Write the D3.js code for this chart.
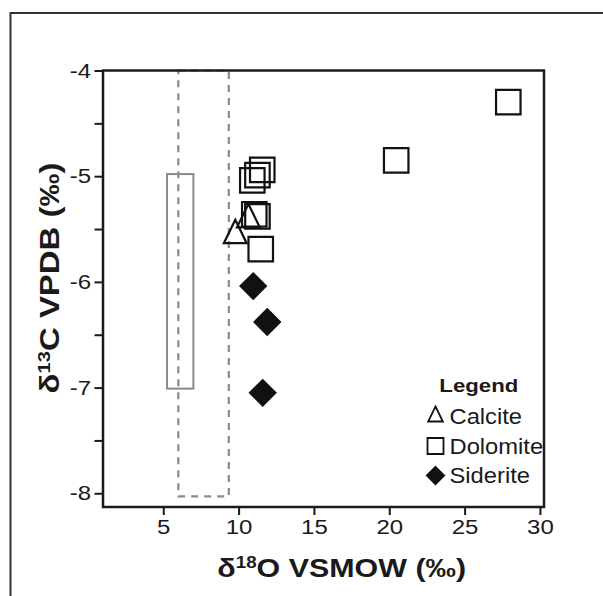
<!DOCTYPE html>
<html>
<head>
<meta charset="utf-8">
<script src="https://cdn.jsdelivr.net/npm/d3@7"></script>
<style>
  body { margin: 0; background: #fff; }
  svg text { font-family: "Liberation Sans", Arial, sans-serif; fill: #1a1a1a; }
</style>
</head>
<body>
<svg id="chart" width="603" height="596"></svg>
<script>
// datos (δ18O VSMOW, δ13C VPDB)
const calciteX  = [9.78, 10.65];
const calciteY  = [-5.56, -5.41];
const dolomiteX = [11.57, 11.25, 10.91, 11.04, 11.25, 11.47, 20.46, 27.9];
const dolomiteY = [-4.94, -4.99, -5.04, -5.36, -5.38, -5.69, -4.85, -4.30];
const sideriteX = [10.97, 11.90, 11.60];
const sideriteY = [-6.04, -6.38, -7.05];

// cajas de referencia [x0, x1, y0, y1]
const solidBox  = [5.25, 7.0, -7.01, -4.98];
const dashedBox = [6.0, 9.35, -8.03, -4.0];

const xTicks = [5, 10, 15, 20, 25, 30];
const yTicks = [-8, -7.5, -7, -6.5, -6, -5.5, -5, -4.5, -4];
const yLabels = [-8, -7, -6, -5, -4];
const legendLabels = ["Calcite", "Dolomite", "Siderite"];

const svg = d3.select("#chart");
const SX = 1.17;   // el original tiene el texto algo ensanchado

// marco exterior
svg.append("rect")
  .attr("x", 10.5).attr("y", 13).attr("width", 640).attr("height", 640)
  .attr("fill", "none").attr("stroke", "#333").attr("stroke-width", 2);

const x = d3.scaleLinear().domain([1, 30.27]).range([103, 544]);
const y = d3.scaleLinear().domain([-8.13, -4]).range([507, 70.5]);

// cajas
svg.append("rect")
  .attr("x", x(solidBox[0])).attr("y", y(solidBox[3]))
  .attr("width", x(solidBox[1]) - x(solidBox[0]))
  .attr("height", y(solidBox[2]) - y(solidBox[3]))
  .attr("fill", "none").attr("stroke", "#8a8a8a").attr("stroke-width", 2);
svg.append("rect")
  .attr("x", x(dashedBox[0])).attr("y", y(dashedBox[3]))
  .attr("width", x(dashedBox[1]) - x(dashedBox[0]))
  .attr("height", y(dashedBox[2]) - y(dashedBox[3]))
  .attr("fill", "none").attr("stroke", "#8a8a8a").attr("stroke-width", 2.2)
  .attr("stroke-dasharray", "7,6");

// ejes
const gx = svg.append("g").attr("transform", `translate(0,${y.range()[0]})`)
  .call(d3.axisBottom(x).tickValues(xTicks).tickSize(8).tickSizeOuter(0).tickPadding(4));
const gy = svg.append("g").attr("transform", `translate(${x.range()[0]},0)`)
  .call(d3.axisLeft(y).tickValues(yTicks).tickSize(8.5).tickSizeOuter(0)
    .tickFormat(d => yLabels.includes(d) ? d : ""));

[gx, gy].forEach(g => {
  g.select(".domain").remove();
  g.selectAll(".tick line").attr("stroke", "#1a1a1a").attr("stroke-width", 2);
  g.selectAll(".tick text").attr("font-size", 20.5).attr("fill", "#1a1a1a")
    .style("font-family", "'Liberation Sans', Arial, sans-serif");
});
gx.selectAll(".tick text").attr("transform", `scale(${SX},1)`);
gy.selectAll(".tick text").attr("x", -12 / SX).attr("transform", `scale(${SX},1)`);

// marco del gráfico
svg.append("rect")
  .attr("x", x.range()[0]).attr("y", y.range()[1])
  .attr("width", x.range()[1] - x.range()[0])
  .attr("height", y.range()[0] - y.range()[1])
  .attr("fill", "none").attr("stroke", "#1a1a1a").attr("stroke-width", 2.5);

// símbolos
const triangle = { draw(ctx, size) {
  const s = Math.sqrt(size);
  ctx.moveTo(0, -2 * s / 3); ctx.lineTo(s * 0.49, s / 3); ctx.lineTo(-s * 0.49, s / 3); ctx.closePath();
}};
const diamond = { draw(ctx, size) {
  const r = Math.sqrt(size) / 2;
  ctx.moveTo(0, -r); ctx.lineTo(r, 0); ctx.lineTo(0, r); ctx.lineTo(-r, 0); ctx.closePath();
}};

function plotSeries(xs, ys, type, size, fill) {
  svg.append("g").selectAll("path").data(xs).join("path")
    .attr("transform", (d, i) => `translate(${x(d)},${y(ys[i])})`)
    .attr("d", d3.symbol().type(type).size(size))
    .attr("fill", fill).attr("stroke", "#111").attr("stroke-width", 2.2);
}
plotSeries(dolomiteX, dolomiteY, d3.symbolSquare, 600, "none");
plotSeries(calciteX, calciteY, triangle, 543, "none");
plotSeries(sideriteX, sideriteY, diamond, 640, "#111");

// títulos de ejes
const xt = svg.append("text")
  .attr("transform", `translate(341.7,576.5) scale(${SX},1)`)
  .attr("text-anchor", "middle").attr("font-size", 26).attr("font-weight", "bold");
xt.append("tspan").text("δ");
xt.append("tspan").attr("font-size", 16).attr("dy", -9).text("18");
xt.append("tspan").attr("dy", 9).text("O VSMOW (‰)");

const yt = svg.append("text")
  .attr("transform", `translate(59,278) rotate(-90) scale(1.22,1)`)
  .attr("text-anchor", "middle").attr("font-size", 27).attr("font-weight", "bold");
yt.append("tspan").text("δ");
yt.append("tspan").attr("font-size", 16.5).attr("dy", -9.5).text("13");
yt.append("tspan").attr("dy", 9.5).text("C VPDB (‰)");

// leyenda
const leg = svg.append("g");
leg.append("text").attr("transform", `translate(478.8,391.5) scale(${SX},1)`)
  .attr("text-anchor", "middle").attr("font-size", 19).attr("font-weight", "bold")
  .text("Legend");
const legTypes = [triangle, d3.symbolSquare, diamond];
const legSizes = [225, 256, 300];
const legFills = ["none", "none", "#111"];
const legRows = [416.5, 446, 475.5];
legendLabels.forEach((lab, i) => {
  leg.append("path")
    .attr("transform", `translate(435.5,${legRows[i]})`)
    .attr("d", d3.symbol().type(legTypes[i]).size(legSizes[i]))
    .attr("fill", legFills[i]).attr("stroke", "#111").attr("stroke-width", 1.8);
  leg.append("text").attr("transform", `translate(449.5,${legRows[i] + 7.8}) scale(1.08,1)`)
    .attr("font-size", 22).text(lab);
});
</script>
</body>
</html>
